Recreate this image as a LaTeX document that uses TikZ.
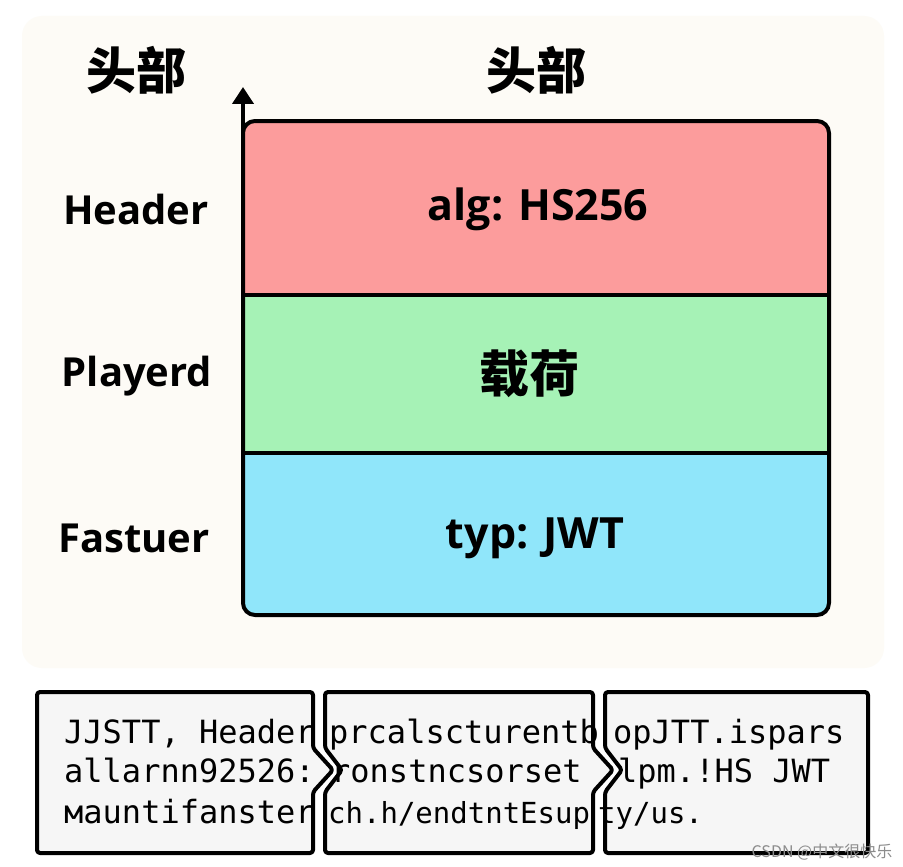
\documentclass[tikz,border=0pt]{standalone}
\usepackage{fontspec}
\usetikzlibrary{arrows.meta}
\newfontfamily\cjkfont{Noto Sans CJK SC}
\newfontfamily\labfont{Open Sans}
\newfontfamily\codefont{DejaVu Sans Mono}
\definecolor{hdr}{HTML}{FC9C9C}
\definecolor{pay}{HTML}{A6F2B6}
\definecolor{sig}{HTML}{90E6FA}
\definecolor{paper}{HTML}{FDFBF6}
\definecolor{cardfill}{HTML}{F6F6F6}
\begin{document}
\begin{tikzpicture}[x=1pt,y=-1pt,
  cjklab/.style={font=\cjkfont\bfseries\fontsize{50}{54}\selectfont, inner sep=0pt},
  sidelab/.style={font=\labfont\bfseries\fontsize{40}{44}\selectfont, inner sep=0pt},
  rowlab/.style={font=\labfont\bfseries\fontsize{43}{46}\selectfont, inner sep=0pt},
  codetxt/.style={font=\codefont\fontsize{32}{34}\selectfont, anchor=base west, inner sep=0pt},
  cardline/.style={draw=black, line width=4pt, rounded corners=3pt, line join=round},
  frameline/.style={draw=black, line width=4pt}]
% background
\fill[white] (0,0) rectangle (903,867);
\fill[paper, rounded corners=20pt] (22,16) rectangle (884,668);
\useasboundingbox (0,0) rectangle (903,867);

% main table
\begin{scope}
  \clip[rounded corners=12pt] (243,121) rectangle (829,615);
  \fill[hdr] (243,121) rectangle (829,295);
  \fill[pay] (243,295) rectangle (829,453);
  \fill[sig] (243,453) rectangle (829,615);
\end{scope}
\draw[frameline, line width=3.5pt] (243,295) -- (829,295);
\draw[frameline, line width=3.5pt] (243,453) -- (829,453);
\draw[frameline, rounded corners=12pt] (243,121) rectangle (829,615);

% axis arrow
\coordinate (axisbase) at (243,140);
\coordinate (axistip) at (243,87);
\draw[line width=4pt, -{Triangle[width=21pt,length=17pt]}] (axisbase) -- (axistip);

% labels
\node[cjklab] (topleft) at (136,70) {头部};
\node[cjklab] (topmid) at (536,70) {头部};
\node[sidelab] (lhead) at (136,209) {Header};
\node[sidelab] (lpay) at (137,376) {Playerd};
\node[sidelab] (lsig) at (134,538) {Fastuer};
\node[rowlab] (rhead) at (538,209) {alg: HS256};
\node[cjklab] (rpay) at (529,374) {载荷};
\node[rowlab] (rsig) at (535,538) {typ: JWT};

% cards: fill
\fill[cardfill, rounded corners=3pt] (37,692) -- (313,692) -- (313,748) -- (333,770) -- (313,792) -- (313,853) -- (37,853) -- cycle;
\fill[cardfill, rounded corners=3pt] (325,692) -- (593,692) -- (593,748) -- (613,770) -- (593,792) -- (593,853) -- (325,853) -- (325,792) -- (342,770) -- (325,748) -- cycle;
\fill[cardfill, rounded corners=3pt] (605,692) -- (868,692) -- (868,853) -- (605,853) -- (605,792) -- (622,770) -- (605,748) -- cycle;

% card texts
\node[codetxt] (a1) at (64,743) {JJSTT, Header};
\node[codetxt] (a2) at (64,782) {allarnn92526:};
\node[codetxt] (a3) at (64,823) {мauntifanster};
\node[codetxt] (b1) at (329,743) {prcalscturentb};
\node[codetxt] (b2) at (331,782) {ronstncsorset};
\node[codetxt, font=\codefont\fontsize{29}{34}\selectfont] (b3) at (328,823) {ch.h/endtntEsup};
\node[codetxt] (c1) at (613,743) {opJTT.ispars};
\node[codetxt, font=\codefont\fontsize{32}{34}\selectfont] (c2) at (618,782) {lpm.!HS JWT};
\node[codetxt, font=\codefont\fontsize{29}{34}\selectfont] (c3) at (598,823) {ty/us.};

% cards: borders
\draw[cardline] (37,692) -- (313,692) -- (313,748) -- (333,770) -- (313,792) -- (313,853) -- (37,853) -- cycle;
\draw[cardline] (325,692) -- (593,692) -- (593,748) -- (613,770) -- (593,792) -- (593,853) -- (325,853) -- (325,792) -- (342,770) -- (325,748) -- cycle;
\draw[cardline] (605,692) -- (868,692) -- (868,853) -- (605,853) -- (605,792) -- (622,770) -- (605,748) -- cycle;

% watermark
\node[font=\cjkfont\fontsize{16}{18}\selectfont, text=black!45, inner sep=0pt] (wm) at (822,852) {CSDN @中文很快乐};
\end{tikzpicture}
\end{document}
